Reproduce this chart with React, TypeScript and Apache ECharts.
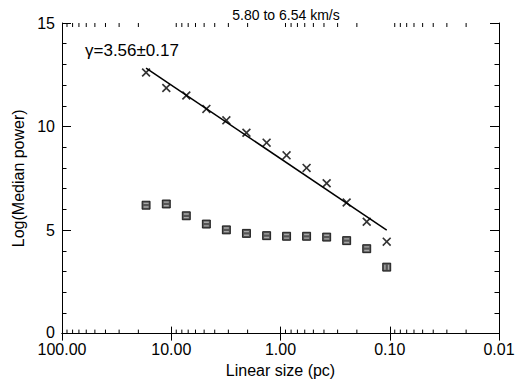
import React, { useEffect, useRef } from "react";
import * as echarts from "echarts";

const sizes = [17.0, 11.1, 7.28, 4.77, 3.13, 2.05, 1.34, 0.88, 0.577, 0.378, 0.248, 0.1625, 0.1066];
const powerCross = [12.61, 11.86, 11.5, 10.85, 10.3, 9.7, 9.22, 8.61, 8.0, 7.26, 6.33, 5.4, 4.44];
const powerSquare = [6.2, 6.26, 5.69, 5.29, 5.01, 4.84, 4.73, 4.7, 4.7, 4.66, 4.49, 4.1, 3.21];
const fitX = [17.0, 0.1066];
const fitY = [12.82, 5.0];
const decades = [0.01, 0.1, 1, 10];
const minorMultipliers = [2, 3, 4, 5, 6, 7, 8, 9];
const titleText = "5.80 to 6.54 km/s";
const gammaText = "γ=3.56±0.17";
const FONT = "'Liberation Sans', Arial, Helvetica, sans-serif";

const crossPath = "path://M0,1.3 L1.3,0 L5,3.7 L8.7,0 L10,1.3 L6.3,5 L10,8.7 L8.7,10 L5,6.3 L1.3,10 L0,8.7 L3.7,5 Z";
const hStripes = "path://M0,0 H10 V2.2 H0 Z M0,5.8 H10 V8 H0 Z";
const vStripes = "path://M0,0 H2.2 V10 H0 Z M5.8,0 H8 V10 H5.8 Z";

export default function App() {
  const ref = useRef<HTMLDivElement>(null);
  useEffect(() => {
    if (!ref.current) return;
    const chart = echarts.init(ref.current, null, { renderer: "svg" });
    const minorVals: number[] = [];
    decades.forEach((d) => minorMultipliers.forEach((m) => minorVals.push(+(d * m).toPrecision(3))));
    const xCommon = {
      type: "log" as const,
      logBase: 10,
      min: 0.01,
      max: 100,
      inverse: true,
      splitNumber: 4,
      splitLine: { show: false },
      axisLine: { show: true, lineStyle: { color: "#000", width: 1 } },
      axisTick: { show: true, inside: true, length: 7, lineStyle: { color: "#000" } },
    };
    const yCommon = {
      type: "value" as const,
      min: 0,
      max: 15,
      interval: 5,
      splitLine: { show: false },
      axisLine: { show: true, lineStyle: { color: "#000", width: 1 } },
      axisTick: { show: true, inside: true, length: 9, lineStyle: { color: "#000" } },
      minorTick: { show: true, splitNumber: 5, length: 4.5, lineStyle: { color: "#000" } },
    };
    chart.setOption({
      animation: false,
      title: {
        text: titleText,
        left: 281,
        textAlign: "center",
        top: 3,
        textStyle: { fontFamily: FONT, fontSize: 14, fontWeight: "normal", color: "#000" },
      },
      grid: { left: 62, right: 26, top: 23, bottom: 48 },
      xAxis: [
        {
          ...xCommon,
          position: "bottom",
          name: "Linear size (pc)",
          nameLocation: "middle",
          nameGap: 26,
          nameTextStyle: { fontFamily: FONT, fontSize: 16, color: "#000", lineHeight: 16 },
          axisLabel: {
            show: true,
            margin: 8,
            fontFamily: FONT,
            fontSize: 16,
            lineHeight: 15,
            color: "#000",
            showMinLabel: true,
            showMaxLabel: true,
            formatter: (v: number) => v.toFixed(2),
          },
        },
        { ...xCommon, position: "top", axisLabel: { show: false } },
      ],
      yAxis: [
        {
          ...yCommon,
          position: "left",
          name: "Log(Median power)",
          nameLocation: "middle",
          nameGap: 33,
          nameTextStyle: { fontFamily: FONT, fontSize: 16, color: "#000" },
          axisLabel: {
            margin: 7,
            fontFamily: FONT,
            fontSize: 16,
            lineHeight: 13,
            color: "#000",
            formatter: (v: number) => (v === 0 ? "{z|0}" : String(v)),
            rich: { z: { fontFamily: FONT, fontSize: 16, lineHeight: 13, color: "#000", padding: [0, 0, 3, 0] } },
          },
        },
        { ...yCommon, position: "right", axisLabel: { show: false } },
      ],
      graphic: [
        {
          type: "text",
          left: 85,
          top: 42,
          style: { text: gammaText, font: `17px ${FONT}`, fill: "#000" },
        },
      ],
      series: [
        {
          type: "custom",
          silent: true,
          clip: false,
          data: minorVals.map((v) => [v, 0]),
          renderItem: (params: any, api: any) => {
            const x = api.value(0);
            const b = api.coord([x, 0]);
            const t = api.coord([x, 15]);
            return {
              type: "group",
              children: [
                { type: "line", shape: { x1: b[0], y1: b[1], x2: b[0], y2: b[1] - 4 }, style: { stroke: "#000", lineWidth: 1 } },
                { type: "line", shape: { x1: t[0], y1: t[1], x2: t[0], y2: t[1] + 4 }, style: { stroke: "#000", lineWidth: 1 } },
              ],
            };
          },
        },
        {
          type: "line",
          data: fitX.map((x, i) => [x, fitY[i]]),
          symbol: "none",
          lineStyle: { color: "#000", width: 1.5 },
          silent: true,
        },
        {
          type: "scatter",
          data: sizes.map((x, i) => [x, powerCross[i]]),
          symbol: crossPath,
          symbolSize: 9,
          itemStyle: { color: "#000" },
          silent: true,
        },
        {
          type: "scatter",
          data: sizes.map((x, i) => [x, powerSquare[i]]),
          symbol: "rect",
          symbolSize: [8, 8],
          itemStyle: { color: "#2a2a2a", borderColor: "#000", borderWidth: 1 },
          silent: true,
        },
        {
          type: "scatter",
          data: sizes.map((x, i) => [x, powerSquare[i]]),
          symbol: (_v: any, p: any) => (p.dataIndex === sizes.length - 1 ? vStripes : hStripes),
          symbolSize: [5, 5],
          itemStyle: { color: "#bbb" },
          silent: true,
        },
      ],
    });
    return () => chart.dispose();
  }, []);
  return <div ref={ref} style={{ width: 525, height: 383, position: "absolute", left: 0, top: 0, background: "#fff" }} />;
}
